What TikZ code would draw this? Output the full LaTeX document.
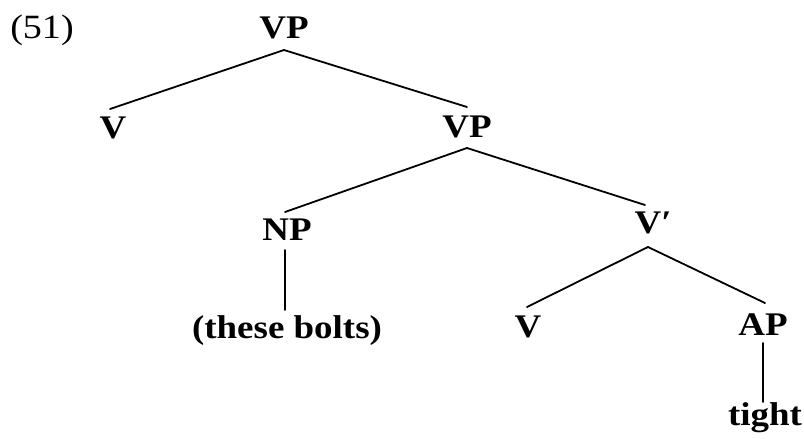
\documentclass[tikz,border=0pt]{standalone}
\usepackage{fontspec}
\setmainfont{Liberation Serif}[FakeStretch=1.12]
\begin{document}
\begin{tikzpicture}[x=1pt,y=-1pt,
  cat/.style={font=\bfseries\fontsize{33}{36}\selectfont, inner sep=0pt, anchor=base},
  numlab/.style={font=\fontsize{34}{36}\selectfont, inner sep=0pt, anchor=base},
  edge/.style={line width=1.8pt, line cap=round}]
\useasboundingbox (0,0) rectangle (804,439);
\node[numlab] (num) at (42,38) {(51)};
\node[cat] (vpA) at (284,38) {VP};
\node[cat] (vA) at (113,138) {V};
\node[cat] (vpB) at (467,137) {VP};
\node[cat] (np) at (287,240) {NP};
\node[cat] (vbar) at (648,233) {V\rlap{′}};
\node[cat] (these) at (287,338) {(these bolts)};
\node[cat] (vB) at (528,337) {V};
\node[cat] (ap) at (763,335) {AP};
\node[cat] (tight) at (765,425) {tight};
\draw[edge] ([yshift=-12pt]vpA.base) -- ([xshift=-3pt,yshift=29pt]vA.base);
\draw[edge] ([yshift=-12pt]vpA.base) -- ([yshift=30pt]vpB.base);
\draw[edge] ([yshift=-11pt]vpB.base) -- ([xshift=-2pt,yshift=28pt]np.base);
\draw[edge] ([yshift=-11pt]vpB.base) -- ([xshift=-3pt,yshift=28pt]vbar.base);
\draw[edge] ([yshift=-14pt]vbar.base) -- ([xshift=-1pt,yshift=30pt]vB.base);
\draw[edge] ([yshift=-14pt]vbar.base) -- ([xshift=2pt,yshift=32pt]ap.base);
\draw[edge] ([xshift=-2pt,yshift=-10pt]np.base) -- ([xshift=-2pt,yshift=28pt]these.base);
\draw[edge] ([yshift=-8pt]ap.base) -- ([xshift=-2pt,yshift=23pt]tight.base);
\end{tikzpicture}
\end{document}
